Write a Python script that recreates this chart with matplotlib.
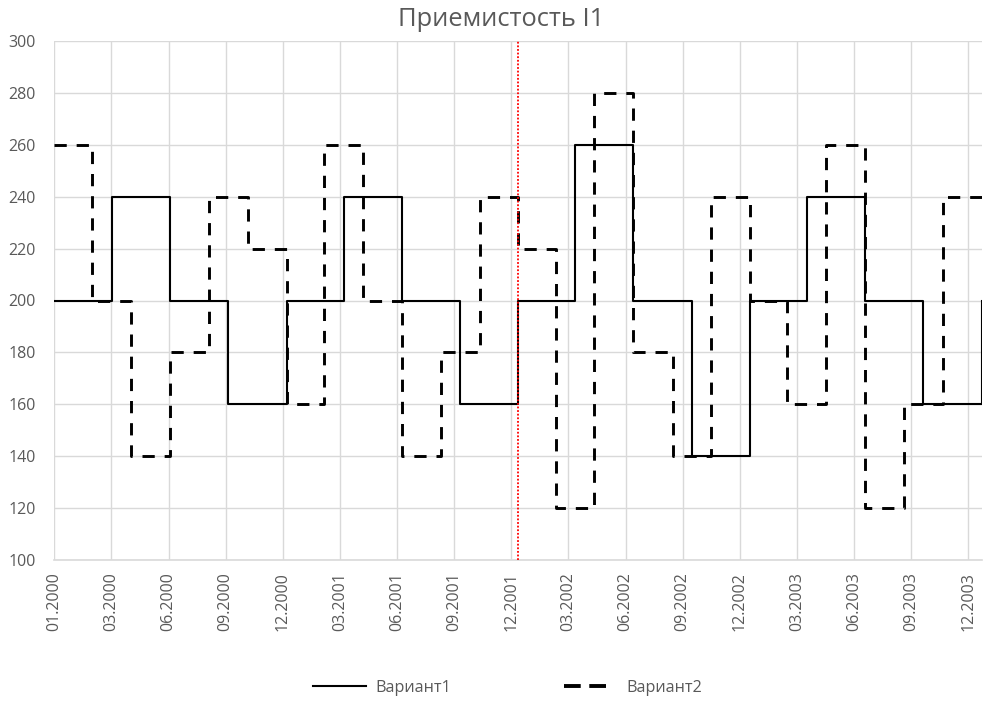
import numpy as np
import matplotlib
matplotlib.use("Agg")
import matplotlib.pyplot as plt
from matplotlib.lines import Line2D

plt.rcParams['font.family'] = ['Open Sans', 'DejaVu Sans']

title = "Приемистость I1"
series_names = ["Вариант1", "Вариант2"]

v1_dates = ['2000-01-01', '2000-04-01', '2000-07-01', '2000-10-01',
            '2001-01-01', '2001-04-01', '2001-07-01', '2001-10-01',
            '2002-01-01', '2002-04-01', '2002-07-01', '2002-10-01',
            '2003-01-01', '2003-04-01', '2003-07-01', '2003-10-01',
            '2004-01-01']
v1_values = [200, 240, 200, 160, 200, 240, 200, 160,
             200, 260, 200, 140, 200, 240, 200, 160, 200]

v2_dates = ['2000-01-01', '2000-03-01', '2000-05-01', '2000-07-01', '2000-09-01', '2000-11-01',
            '2001-01-01', '2001-03-01', '2001-05-01', '2001-07-01', '2001-09-01', '2001-11-01',
            '2002-01-01', '2002-03-01', '2002-05-01', '2002-07-01', '2002-09-01', '2002-11-01',
            '2003-01-01', '2003-03-01', '2003-05-01', '2003-07-01', '2003-09-01', '2003-11-01',
            '2004-01-01']
v2_values = [260, 200, 140, 180, 240, 220,
             160, 260, 200, 140, 180, 240,
             220, 120, 280, 180, 140, 240,
             200, 160, 260, 120, 160, 240, 240]

marker_date = '2001-12-31'

tick_labels = ['01.2000', '03.2000', '06.2000', '09.2000', '12.2000',
               '03.2001', '06.2001', '09.2001', '12.2001',
               '03.2002', '06.2002', '09.2002', '12.2002',
               '03.2003', '06.2003', '09.2003', '12.2003']

start = np.datetime64('2000-01-01')
def days(ds):
    return (np.array(ds, dtype='datetime64[D]') - start).astype(int)

x1 = days(v1_dates)
x2 = days(v2_dates)
xm = days([marker_date])[0]
end_day = days(['2004-01-01'])[0]

fig = plt.figure(figsize=(9.83, 7.03), dpi=100)
ax = fig.add_axes([54/983, 1-560/703, (982-54)/983, (560-41)/703])

gray_txt = '#595959'
grid_c = '#d9d9d9'

ax.step(x1, v1_values, where='post', color='black', lw=1.5, zorder=3,
        label=series_names[0])
ax.step(x2, v2_values, where='post', color='black', lw=2.1, zorder=4,
        dashes=(4.2, 3.4), dash_capstyle='butt', label=series_names[1])
ax.axvline(xm, color='#ff0000', lw=1.3, ls=(0, (1, 1)), zorder=5)

ax.set_xlim(-0.5, end_day + 0.5)
ax.set_ylim(100, 300)
ax.set_yticks(np.arange(100, 301, 20))
ax.set_xticks(np.arange(len(tick_labels)) * 90)
ax.set_xticklabels(tick_labels, rotation=90)

ax.grid(True, color=grid_c, lw=1.0, zorder=0)
ax.set_axisbelow(True)
for s in ['top', 'right', 'left']:
    ax.spines[s].set_visible(False)
ax.spines['bottom'].set_color(grid_c)
ax.spines['bottom'].set_linewidth(1.2)
ax.tick_params(axis='both', length=0, colors=gray_txt, labelsize=11.5)
ax.tick_params(axis='y', pad=13)
ax.tick_params(axis='x', pad=9)

fig.text(0.5097, 1-20/703, title, ha='center', va='center', fontsize=18.4, color=gray_txt)

handles = [Line2D([], [], color='black', lw=1.5),
           Line2D([], [], color='black', lw=2.8,
                  ls=(0, (4.3, 2.2, 4.3, 12)), dash_capstyle='butt')]
leg = fig.legend(handles, series_names, loc='center', bbox_to_anchor=(0.5163, 1-688/703),
                 ncol=2, frameon=False, fontsize=11.6, handlelength=3.3,
                 handletextpad=0.6, columnspacing=7.0, labelcolor=gray_txt)

fig.savefig('out.png', dpi=100)
